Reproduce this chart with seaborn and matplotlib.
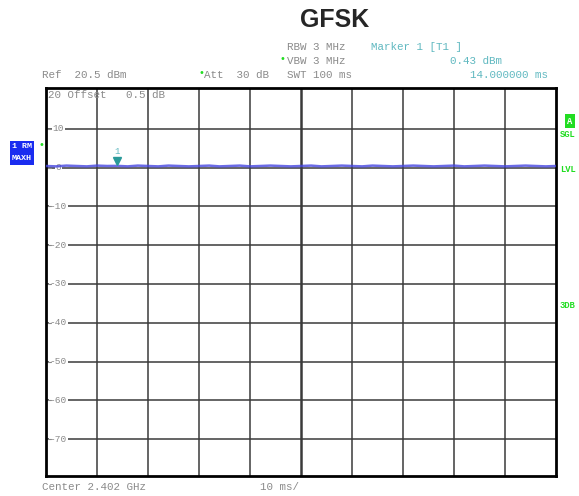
import numpy as np
import pandas as pd
import matplotlib
matplotlib.use("Agg")
import matplotlib.pyplot as plt
import seaborn as sns

sns.set_style("white")

# trace data (time in ms, level in dBm)
time_ms = [0, 2, 4, 6, 8, 10, 12, 14, 16, 18, 20, 22, 24, 26, 28, 30, 32, 34, 36, 38,
           40, 42, 44, 46, 48, 50, 52, 54, 56, 58, 60, 62, 64, 66, 68, 70, 72, 74, 76,
           78, 80, 82, 84, 86, 88, 90, 92, 94, 96, 98, 100]
level_dbm = [0.4, 0.3, 0.5, 0.4, 0.3, 0.5, 0.4, 0.43, 0.3, 0.5, 0.4, 0.3, 0.5, 0.4,
             0.3, 0.4, 0.5, 0.3, 0.4, 0.5, 0.3, 0.4, 0.5, 0.4, 0.3, 0.4, 0.5, 0.3,
             0.4, 0.5, 0.4, 0.3, 0.5, 0.4, 0.3, 0.4, 0.5, 0.4, 0.3, 0.4, 0.5, 0.3,
             0.4, 0.5, 0.4, 0.3, 0.4, 0.5, 0.4, 0.3, 0.4]
marker_ms = 14.0
marker_dbm = 0.43
y_ticks = [10, 0, -10, -20, -30, -40, -50, -60, -70]
y_labels = ["10", "0", "-10", "-20", "-30", "-40", "-50", "-60", "-70"]

df = pd.DataFrame({"t": time_ms, "lvl": level_dbm})

fig = plt.figure(figsize=(5.79, 4.96), dpi=100)
ax = fig.add_axes([46 / 579, 20 / 496, 510 / 579, 388 / 496])

mono = "Liberation Mono"
gray = "#8a8a8a"
cyan = "#5fb8c0"
green = "#22dd22"

# grid
for x in range(10, 100, 10):
    ax.axvline(x, color="#3a3a3a", lw=1.8 if x == 50 else 1.1, zorder=1)
for y in y_ticks:
    ax.axhline(y, color="#3a3a3a", lw=1.1, zorder=1)

sns.lineplot(data=df, x="t", y="lvl", ax=ax, color="#4646e0", lw=1.8, alpha=0.8, zorder=3)

# marker
ax.plot([marker_ms], [marker_dbm + 1.2], marker="v", color="#2a9a9a", ms=6, zorder=4)
ax.text(marker_ms, marker_dbm + 2.6, "1", color=cyan, fontsize=6.5, family=mono,
        ha="center", va="bottom")

for y, lab in zip(y_ticks, y_labels):
    ax.text(2.4, y, lab, color=gray, fontsize=6.8, family=mono, ha="center", va="center",
            bbox=dict(fc="white", ec="none", pad=0.5), zorder=2)
    ax.plot([0, 0.9], [y, y], color=gray, lw=0.8, zorder=2)

ax.text(0.4, 18.6, "20 Offset   0.5 dB", color=gray, fontsize=7.8, family=mono,
        ha="left", va="center", zorder=5)

ax.set_xlim(0, 100)
ax.set_ylim(-79.5, 20.5)
ax.set_xticks([])
ax.set_yticks([])
ax.set_xlabel("")
ax.set_ylabel("")
for s in ax.spines.values():
    s.set_color("black")
    s.set_linewidth(2)


def px(x, y):
    return x / 579, 1 - y / 496


fig.text(*px(335, 20), "GFSK", fontsize=18, fontweight="bold", family="Liberation Sans",
         ha="center", va="center")

fs = 7.8
fig.text(*px(287, 47), "RBW 3 MHz", color=gray, fontsize=fs, family=mono, va="center")
fig.text(*px(287, 61), "VBW 3 MHz", color=gray, fontsize=fs, family=mono, va="center")
fig.text(*px(287, 75), "SWT 100 ms", color=gray, fontsize=fs, family=mono, va="center")
fig.text(*px(282, 59), "•", color=green, fontsize=7, va="center", ha="center")
fig.text(*px(371, 47), "Marker 1 [T1 ]", color=cyan, fontsize=fs, family=mono, va="center")
fig.text(*px(502, 61), "0.43 dBm", color=cyan, fontsize=fs, family=mono, va="center", ha="right")
fig.text(*px(548, 75), "14.000000 ms", color=cyan, fontsize=fs, family=mono, va="center", ha="right")
fig.text(*px(42, 75), "Ref  20.5 dBm", color=gray, fontsize=fs, family=mono, va="center")
fig.text(*px(204, 75), "Att  30 dB", color=gray, fontsize=fs, family=mono, va="center")
fig.text(*px(201, 73), "•", color=green, fontsize=7, va="center", ha="center")
fig.text(*px(42, 487), "Center 2.402 GHz", color=gray, fontsize=fs, family=mono, va="center")
fig.text(*px(260, 487), "10 ms/", color=gray, fontsize=fs, family=mono, va="center")

# side annotations
box_blue = dict(fc="#1a2cf0", ec="none", pad=1.6)
fig.text(*px(12, 147), "1 RM", color="white", fontsize=6.0, family=mono, va="center",
         fontweight="bold", bbox=box_blue)
fig.text(*px(12, 159), "MAXH", color="white", fontsize=6.0, family=mono, va="center",
         fontweight="bold", bbox=box_blue)
fig.text(*px(41, 145), "•", color=green, fontsize=7, va="center", ha="center")
fig.text(*px(570, 121), "A", color="white", fontsize=6.3, family=mono, va="center", ha="center",
         fontweight="bold", bbox=dict(fc=green, ec="none", pad=1.8))
fig.text(*px(560, 134.5), "SGL", color=green, fontsize=6.3, family=mono, va="center", fontweight="bold")
fig.text(*px(560, 170), "LVL", color=green, fontsize=6.3, family=mono, va="center", fontweight="bold")
fig.text(*px(560, 306), "3DB", color=green, fontsize=6.3, family=mono, va="center", fontweight="bold")

fig.savefig("out.png", dpi=100)
